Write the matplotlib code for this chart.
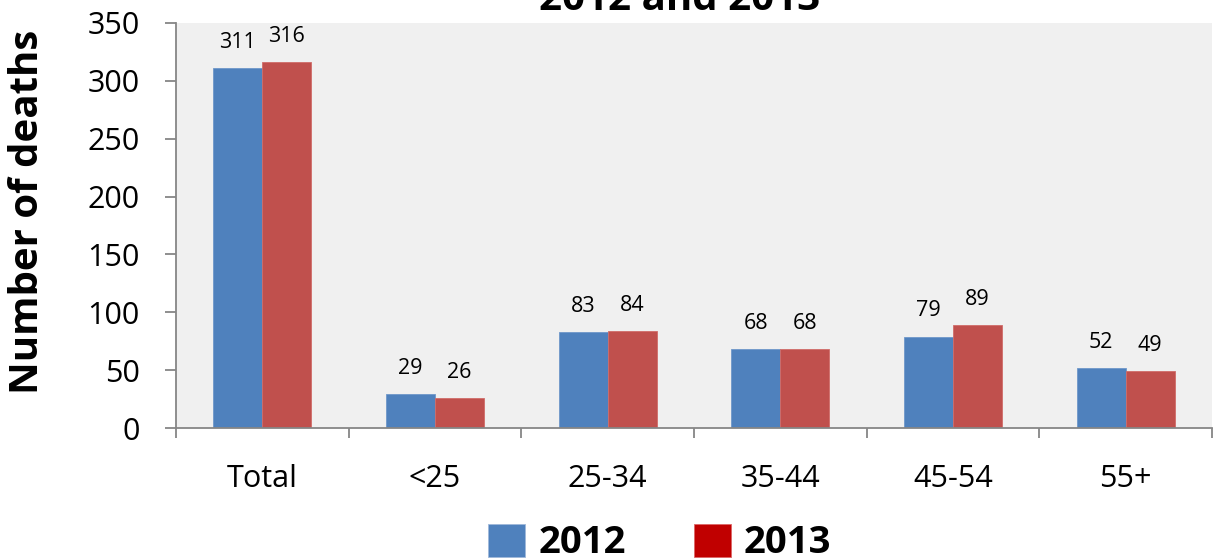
import matplotlib
matplotlib.use("Agg")
import matplotlib.pyplot as plt
from matplotlib.patches import Patch
import numpy as np

categories = ["Total", "<25", "25-34", "35-44", "45-54", "55+"]
deaths_2012 = [311, 29, 83, 68, 79, 52]
deaths_2013 = [316, 26, 84, 68, 89, 49]
series_labels = ["2012", "2013"]
yticks = [0, 50, 100, 150, 200, 250, 300, 350]

plt.rcParams['font.family'] = ['Open Sans', 'DejaVu Sans']

W, H = 1219, 559
fig = plt.figure(figsize=(W / 100, H / 100), dpi=100)
ax = fig.add_axes([176 / W, 1 - 428 / H, (1212 - 176) / W, (428 - 23) / H])
ax.set_facecolor('#f0f0f0')

x = np.arange(len(categories))
bw = 0.284
blue = '#4f81bd'
red = '#c0504d'
b1 = ax.bar(x - bw / 2, deaths_2012, bw, color=blue, edgecolor='#6f97c9', linewidth=0.6)
b2 = ax.bar(x + bw / 2, deaths_2013, bw, color=red, edgecolor='#d06c69', linewidth=0.6)

for bars, vals in ((b1, deaths_2012), (b2, deaths_2013)):
    for r, v in zip(bars, vals):
        ax.annotate(str(v), (r.get_x() + r.get_width() / 2, r.get_height()),
                    xytext=(0, 18.5), textcoords='offset points',
                    ha='center', va='center', fontsize=15.5, color='black')

ax.set_xlim(-0.5, len(categories) - 0.5)
ax.set_ylim(0, 350)
ax.set_yticks(yticks)
ax.set_yticklabels([str(t) for t in yticks], fontsize=22)
ax.set_xticks(x)
ax.set_xticklabels(categories, fontsize=22)
ax.set_xticks(np.arange(-0.5, len(categories)), minor=True)

for s in ('top', 'right'):
    ax.spines[s].set_visible(False)
for s in ('left', 'bottom'):
    ax.spines[s].set_color('#868686')
    ax.spines[s].set_linewidth(1.3)

ax.tick_params(axis='y', which='major', length=8, width=1.3, color='#868686', pad=18)
ax.tick_params(axis='x', which='major', length=0, pad=26)
ax.tick_params(axis='x', which='minor', length=7.5, width=1.3, color='#868686')

fig.text(28 / W, 1 - 212 / H, 'Number of deaths', rotation=90, ha='center', va='center',
         fontsize=29, fontweight='bold')
fig.text(680 / W, 1 - 10 / H, '2012 and 2013', ha='center', va='baseline',
         fontsize=29, fontweight='bold')

handles = [Patch(facecolor=blue, edgecolor='#9fb8da', linewidth=0.6),
           Patch(facecolor='#c00000', edgecolor='#d66', linewidth=0.6)]
fig.legend(handles, series_labels, loc='center', bbox_to_anchor=(660 / W, 1 - 543 / H),
           ncol=2, frameon=False, prop={'size': 27.5, 'weight': 'bold'},
           handlelength=0.95, handleheight=0.95, handletextpad=0.35, columnspacing=1.8)

fig.savefig('out.png', dpi=100)
